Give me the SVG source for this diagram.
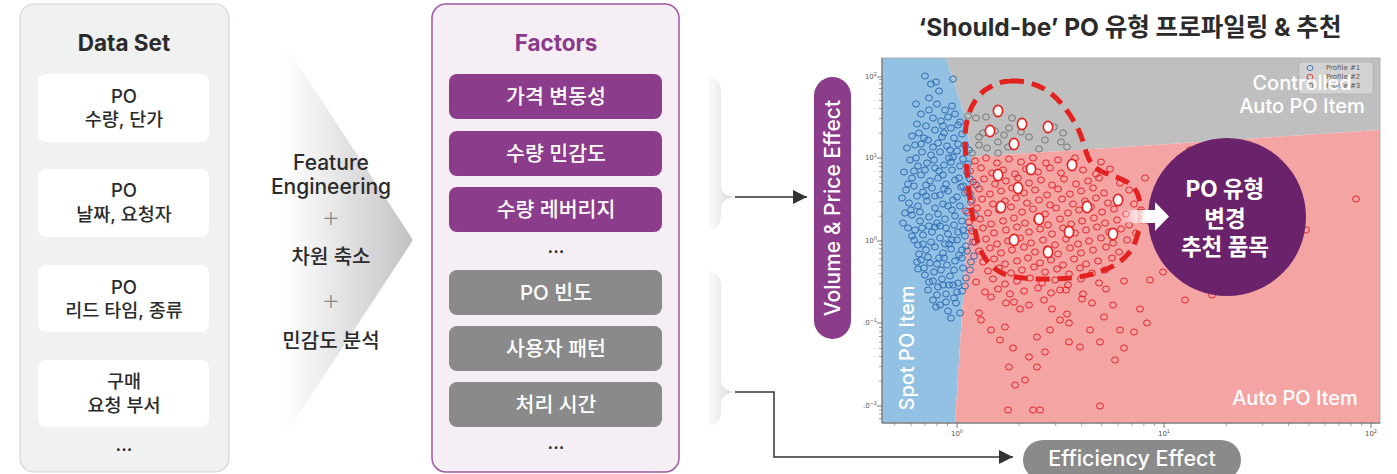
<svg xmlns="http://www.w3.org/2000/svg" width="1397" height="474" viewBox="0 0 1397 474">
<defs>
<style>
.t{font-family:Inter,"Noto Sans CJK KR",sans-serif;text-anchor:middle;dominant-baseline:central;font-weight:500}
.d{fill:#2b2b2b}
.w{fill:#ffffff}
.b{font-weight:700}
.s18{font-size:18.5px}
.s20{font-size:20px}
.s21{font-size:21px}
.sf{font-size:20.5px}
.tk{font-family:"DejaVu Sans",sans-serif;font-size:7px;fill:#555}
.box{fill:#ffffff}
.fp{fill:#8b3c8b}
.fg{fill:#8a8a8a}
.conn{fill:none;stroke:#333;stroke-width:1.5}
.pts{fill:none;stroke:none}
.plus{font-family:Inter,sans-serif;font-size:30px;font-weight:200;fill:#8a8a8a;text-anchor:middle;dominant-baseline:central}
</style>
<linearGradient id="gChev" x1="0" y1="0" x2="1" y2="0"><stop offset="0" stop-color="#ffffff"/><stop offset="1" stop-color="#c2c2c5"/></linearGradient>
<linearGradient id="gBrace" x1="0" y1="0" x2="1" y2="0"><stop offset="0" stop-color="#ffffff"/><stop offset="1" stop-color="#d4d4d4"/></linearGradient>
<linearGradient id="gArr" x1="0" y1="0" x2="1" y2="0"><stop offset="0" stop-color="#ffffff" stop-opacity="0"/><stop offset="0.55" stop-color="#ffffff"/><stop offset="1" stop-color="#ffffff"/></linearGradient>
<marker id="ah" markerWidth="14" markerHeight="14" refX="14" refY="7" orient="auto" markerUnits="userSpaceOnUse"><path d="M0,0 L14,7 L0,14 Z" fill="#333"/></marker>
<marker id="mb" markerWidth="10" markerHeight="10" refX="5" refY="5" markerUnits="userSpaceOnUse"><ellipse cx="5" cy="5" rx="3.4" ry="3.1" fill="none" stroke="#2f6cb3" stroke-width="1"/></marker>
<marker id="mr" markerWidth="10" markerHeight="10" refX="5" refY="5" markerUnits="userSpaceOnUse"><ellipse cx="5" cy="5" rx="3.4" ry="3.1" fill="none" stroke="#e3252a" stroke-width="1"/></marker>
<marker id="mg" markerWidth="10" markerHeight="10" refX="5" refY="5" markerUnits="userSpaceOnUse"><ellipse cx="5" cy="5" rx="3.4" ry="3.1" fill="none" stroke="#777" stroke-width="1"/></marker>
<marker id="mw" markerWidth="14" markerHeight="16" refX="7" refY="8" markerUnits="userSpaceOnUse"><ellipse cx="7" cy="8" rx="4.6" ry="5.6" fill="#fff" stroke="#e3211f" stroke-width="1.6"/></marker>
</defs>
<rect width="1397" height="474" fill="#ffffff"/>

<g id="dataset">
<rect x="20" y="4" width="209" height="468" rx="14" fill="#f0f1f1" stroke="#d5d5d5" stroke-width="1.2"/>
<text class="t d b" font-size="22.5" x="124" y="42">Data Set</text>
</g>
<g id="ds-1"><rect class="box" x="38" y="74" width="171" height="68" rx="8"/><text class="t d s18" x="124" y="96">PO</text><text class="t d s18" x="124" y="119">수량, 단가</text></g>
<g id="ds-2"><rect class="box" x="38" y="169" width="171" height="68" rx="8"/><text class="t d s18" x="124" y="190">PO</text><text class="t d s18" x="124" y="214">날짜, 요청자</text></g>
<g id="ds-3"><rect class="box" x="38" y="265" width="171" height="67" rx="8"/><text class="t d s18" x="124" y="287">PO</text><text class="t d s18" x="124" y="310">리드 타임, 종류</text></g>
<g id="ds-4"><rect class="box" x="38" y="360" width="171" height="67" rx="8"/><text class="t d s18" x="124" y="381">구매</text><text class="t d s18" x="124" y="405">요청 부서</text></g>
<g id="ds-more"><text class="t d s18" x="124" y="444">...</text></g>

<g id="feature-engineering">
<polygon points="284,43 413,240 284,437" fill="url(#gChev)"/>
<text class="t d s21" x="331" y="162">Feature</text>
<text class="t d s21" x="331" y="186">Engineering</text>
<text class="plus" x="331" y="216">+</text>
<text class="t d s20" x="331" y="257">차원 축소</text>
<text class="plus" x="331" y="299">+</text>
<text class="t d s20" x="331" y="341">민감도 분석</text>
</g>

<g id="factors">
<rect x="432" y="4" width="247" height="468" rx="14" fill="#f5eef5" stroke="#9c5aa0" stroke-width="1.5"/>
<text class="t b" font-size="22.5" x="556" y="42" fill="#8b3a8b">Factors</text>
</g>
<g id="f-1"><rect class="fp" x="449" y="74" width="213" height="45" rx="8"/><text class="t w sf" x="556" y="96.5">가격 변동성</text></g>
<g id="f-2"><rect class="fp" x="449" y="131" width="213" height="45" rx="8"/><text class="t w sf" x="556" y="153.5">수량 민감도</text></g>
<g id="f-3"><rect class="fp" x="449" y="187" width="213" height="45" rx="8"/><text class="t w sf" x="556" y="209.5">수량 레버리지</text></g>
<g id="f-more1"><text class="t d s18" x="556" y="246">...</text></g>
<g id="f-4"><rect class="fg" x="449" y="270" width="213" height="45" rx="8"/><text class="t w sf" x="556" y="292.5">PO 빈도</text></g>
<g id="f-5"><rect class="fg" x="449" y="326" width="213" height="45" rx="8"/><text class="t w sf" x="556" y="348.5">사용자 패턴</text></g>
<g id="f-6"><rect class="fg" x="449" y="382" width="213" height="45" rx="8"/><text class="t w sf" x="556" y="404.5">처리 시간</text></g>
<g id="f-more2"><text class="t d s18" x="556" y="442">...</text></g>

<g id="brace-1"><path d="M707,77 C717,77 721,83 721,93 L721,184 C721,192 726,197 736,197 C726,197 721,202 721,210 L721,214 C721,224 717,230 707,230 Z" fill="url(#gBrace)"/></g>
<g id="brace-2"><path d="M707,271 C717,271 721,277 721,287 L721,379 C721,387 726,392 736,392 C726,392 721,397 721,405 L721,410 C721,420 717,426 707,426 Z" fill="url(#gBrace)"/></g>

<g id="connectors">
<path class="conn" d="M735,197 H807" marker-end="url(#ah)"/>
<path class="conn" d="M735,392 H774 V457 H1013" marker-end="url(#ah)"/>
</g>

<g id="title"><text class="t d b" x="1130" y="27" font-size="24.5">‘Should-be’ PO 유형 프로파일링 &amp; 추천</text></g>

<g id="y-label">
<rect x="814" y="77" width="37" height="262" rx="18.5" fill="#8b3c8b"/>
<text class="t w" font-size="21" transform="rotate(-90 832.5 208)" x="832.5" y="208">Volume &amp; Price Effect</text>
</g>

<g id="plot">
<polygon points="882,58 946,58 964,113 972,157 955,423 882,423" fill="#93c1e3"/>
<polygon points="946,58 1380,58 1380,130 972,157 964,113" fill="#bfbfbf"/>
<polygon points="972,157 1380,130 1380,423 955,423" fill="#f5a4a4"/>
<rect x="882" y="58" width="498" height="365" fill="none" stroke="#b0b0b0" stroke-width="1"/>
<path d="M882,58 V423 H1380" fill="none" stroke="#666" stroke-width="1"/>
<path d="M882,77 h-5 M882,158 h-5 M882,241 h-5 M882,323 h-5 M882,406 h-5 M957,423 v5 M1164,423 v5 M1371,423 v5" stroke="#555" stroke-width="0.8"/>
<path d="M882,381.2h-3M882,366.7h-3M882,356.5h-3M882,348.5h-3M882,342h-3M882,336.5h-3M882,331.7h-3M882,327.5h-3M882,298.2h-3M882,283.7h-3M882,273.5h-3M882,265.5h-3M882,259h-3M882,253.5h-3M882,248.7h-3M882,244.5h-3M882,216.2h-3M882,201.7h-3M882,191.5h-3M882,183.5h-3M882,177h-3M882,171.5h-3M882,166.7h-3M882,162.5h-3M882,133.2h-3M882,118.7h-3M882,108.5h-3M882,100.5h-3M882,94h-3M882,88.5h-3M882,83.7h-3M882,79.5h-3M882,410h-3M882,414h-3M882,418.7h-3 M894.7,423v3M911,423v3M924.9,423v3M936.9,423v3M947.5,423v3M1019.3,423v3M1055.7,423v3M1081.6,423v3M1101.7,423v3M1118,423v3M1131.9,423v3M1143.9,423v3M1154.5,423v3M1226.3,423v3M1262.7,423v3M1288.6,423v3M1308.7,423v3M1325,423v3M1338.9,423v3M1350.9,423v3M1361.5,423v3" stroke="#666" stroke-width="0.6"/>
<text class="tk" x="877" y="79" text-anchor="end">10<tspan dy="-3" font-size="5">2</tspan></text>
<text class="tk" x="877" y="160" text-anchor="end">10<tspan dy="-3" font-size="5">1</tspan></text>
<text class="tk" x="877" y="243" text-anchor="end">10<tspan dy="-3" font-size="5">0</tspan></text>
<text class="tk" x="877" y="325" text-anchor="end">.0<tspan dy="-3" font-size="5">−1</tspan></text>
<text class="tk" x="877" y="408" text-anchor="end">.0<tspan dy="-3" font-size="5">−2</tspan></text>
<text class="tk" x="957" y="436" text-anchor="middle">10<tspan dy="-3" font-size="5">0</tspan></text>
<text class="tk" x="1164" y="436" text-anchor="middle">10<tspan dy="-3" font-size="5">1</tspan></text>
<text class="tk" x="1371" y="436" text-anchor="middle">10<tspan dy="-3" font-size="5">2</tspan></text>

<path class="pts" marker-start="url(#mb)" marker-mid="url(#mb)" marker-end="url(#mb)" d="M925 76 931 84 936 82 939 91 916 104 929 98 937 104 945 110 952 106 921 114 933 118 941 121 948 117 955 114 958 125 926 126 935 130 944 133 951 128 960 122 912 136 919 133 928 140 938 143 947 146 954 138 962 134 965 145 907 148 915 145 922 152 931 155 940 152 949 158 957 151 963 159 969 150 910 160 918 166 927 163 935 168 944 165 952 170 960 166 967 172 904 172 912 178 921 175 930 181 938 178 946 184 955 180 963 186 970 179 906 190 914 186 923 192 932 188 940 195 948 191 957 197 965 193 972 200 902 198 909 203 918 206 927 201 935 208 943 204 952 210 960 206 968 213 912 215 920 221 929 217 937 223 945 219 954 225 962 221 970 228 915 230 923 235 932 232 940 238 948 234 957 240 965 236 973 242 918 245 926 250 935 247 943 253 951 249 959 255 967 251 921 260 930 263 939 258 947 265 955 261 963 268 971 262 925 275 934 272 942 279 950 276 958 283 966 278 928 290 938 287 946 294 954 298 962 291 940 305 948 311 956 303 951 318 943 285 933 300 960 313 917 124 924 138 933 147 942 137 950 150 958 144 916 158 925 170 934 160 943 175 951 162 959 178 968 164 908 184 917 196 926 185 935 196 944 189 953 200 961 187 970 194 911 210 920 212 929 226 938 214 946 228 955 216 963 230 914 240 922 228 931 242 940 226 949 244 958 232 966 246 919 254 928 257 937 264 945 244 954 270 962 258 924 268 933 281 941 270 949 285 957 292 965 286 937 295 970 270 974 256 975 215 976 185 903 223 908 228 912 236 918 269 936 307 953 79 929 110 943 126 921 144 953 157 914 171 939 171 926 196 948 206 905 213 935 227 952 240 923 244 962 250 944 258 917 262 953 285 929 282 946 302"/>
<path class="pts" marker-start="url(#mg)" marker-mid="url(#mg)" marker-end="url(#mg)" d="M976 118 986 117 983 133 995 131 1004 135 1009 128 998 142 1008 147 979 145 987 148 1012 118 1021 132 1029 137 1039 149 1054 127 1063 133 1067 147 1061 142 979 137 972 153 998 153 968 116 1045 140"/>
<path class="pts" marker-start="url(#mr)" marker-mid="url(#mr)" marker-end="url(#mr)" d="M975 161 986 158 997 163 1009 159 1021 162 1033 158 1046 163 1058 160 1075 158 1101 162 970 171 981 168 992 173 1003 170 1015 174 1026 169 1038 172 1050 168 1061 173 1083 170 1096 174 1110 169 973 182 984 179 995 184 1006 181 1018 178 1029 183 1041 180 1052 185 1064 179 1076 184 1088 181 1099 178 1120 183 968 192 979 189 990 194 1001 191 1012 188 1024 193 1035 190 1047 195 1058 189 1070 194 1081 191 1093 188 1104 193 1129 190 971 202 982 199 993 204 1005 201 1016 198 1027 203 1039 200 1050 205 1062 199 1073 204 1085 201 1096 198 1108 203 1119 199 1134 204 966 211 977 208 988 213 999 210 1011 207 1022 212 1033 209 1045 214 1056 208 1068 213 1079 210 1091 207 1102 212 1114 209 1126 214 1141 210 969 222 980 219 991 224 1003 221 1014 218 1025 223 1037 220 1048 225 1060 219 1071 224 1082 221 1094 218 1105 223 1117 220 1129 225 1148 221 972 231 983 228 994 233 1006 230 1017 227 1029 232 1040 229 1052 234 1063 228 1075 233 1086 230 1097 227 1109 232 1121 229 1136 233 975 242 986 239 997 244 1008 241 1020 238 1031 243 1043 240 1055 245 1066 239 1078 244 1089 241 1101 238 1113 243 1127 240 979 251 990 248 1001 253 1012 250 1024 247 1035 252 1047 249 1058 254 1070 248 1081 253 1093 250 1106 247 1119 252 983 262 994 259 1005 264 1017 261 1028 258 1040 263 1051 260 1063 265 1074 259 1086 264 1098 261 1112 258 988 271 999 268 1011 273 1022 270 1034 267 1045 272 1057 269 1069 274 1080 268 1092 273 1105 270 976 282 993 279 1005 284 1017 281 1030 278 1042 283 1055 280 1068 285 1081 279 1099 283 1124 281 985 292 998 289 1010 294 1024 291 1038 288 1051 293 1066 290 1083 294 1106 289 979 313 981 320 1005 327 1013 348 1009 367 1029 357 1037 367 1037 337 1069 342 1100 342 1100 406 1124 348 1134 332 1147 323 1104 317 1069 323 1067 314 1052 309 1029 305 1020 309 1006 303 991 297 1014 302 1140 309 1113 305 1044 300 1082 299 1060 320 1090 330 1120 330 1000 340 1050 330 1015 385 1025 380 1033 410 1040 410 1008 410 1185 300 1212 295 1163 272 1356 199 1160 250 1175 262 1150 280 1170 230 1145 178 1160 205 1306 230 1190 150 1250 210 1045 352 1080 347 1115 360 991 330 1060 290 1092 303"/>

<g id="legend">
<rect x="1299" y="62" width="74" height="32" rx="2" fill="#d3d3d3" stroke="#aaa" stroke-width="0.6"/>
<ellipse cx="1310" cy="68" rx="3" ry="2.6" fill="none" stroke="#2f6cb3" stroke-width="0.9"/>
<ellipse cx="1310" cy="77" rx="3" ry="2.6" fill="none" stroke="#e3252a" stroke-width="0.9"/>
<ellipse cx="1310" cy="86" rx="3" ry="2.6" fill="none" stroke="#666" stroke-width="0.9"/>
<text class="tk" x="1326" y="70" fill="#333">Profile #1</text>
<text class="tk" x="1326" y="79" fill="#333">Profile #2</text>
<text class="tk" x="1326" y="88" fill="#333">Profile #3</text>
</g>
<text class="t w s20" x="1302" y="83">Controlled</text>
<text class="t w s20" x="1302" y="106">Auto PO Item</text>
<text class="t w s20" x="1295" y="398">Auto PO Item</text>
<text class="t w s20" transform="rotate(-90 907 348)" x="907" y="348">Spot PO Item</text>

<path d="M1010,81 C1030,80 1048,88 1060,102 C1072,116 1080,130 1084,145 C1088,160 1092,168 1105,173 C1120,178 1133,182 1138,195 C1143,210 1141,228 1134,245 C1124,265 1100,275 1070,278 C1045,280 1015,280 1000,272 C985,264 978,248 975,230 C970,205 966,170 965,140 C965,118 972,100 985,90 C994,84 1002,81 1010,81 Z" fill="none" stroke="#e3211f" stroke-width="5" stroke-dasharray="14 8"/>
<path class="pts" marker-start="url(#mw)" marker-mid="url(#mw)" marker-end="url(#mw)" d="M998 111 1022 124 1048 127 990 131 1014 144 1072 165 998 175 1031 169 1018 188 1118 200 1001 207 1087 207 1039 219 1069 232 1113 234 1014 240 1048 252"/>
</g>

<g id="recommend">
<ellipse cx="1227" cy="217" rx="79" ry="79" fill="#6a236a"/>
<text class="t w b" font-size="22.5" x="1225" y="188">PO 유형</text>
<text class="t w b" font-size="22.5" x="1225" y="218">변경</text>
<text class="t w b" font-size="22.5" x="1225" y="246">추천 품목</text>
<path d="M1118,210 H1155 V202 L1169,216.5 L1155,231 V223 H1118 Z" fill="url(#gArr)"/>
</g>

<g id="x-label">
<rect x="1023" y="440" width="218" height="40" rx="20" fill="#8a8a8a"/>
<text class="t w" font-size="21.5" x="1132" y="458">Efficiency Effect</text>
</g>
</svg>
